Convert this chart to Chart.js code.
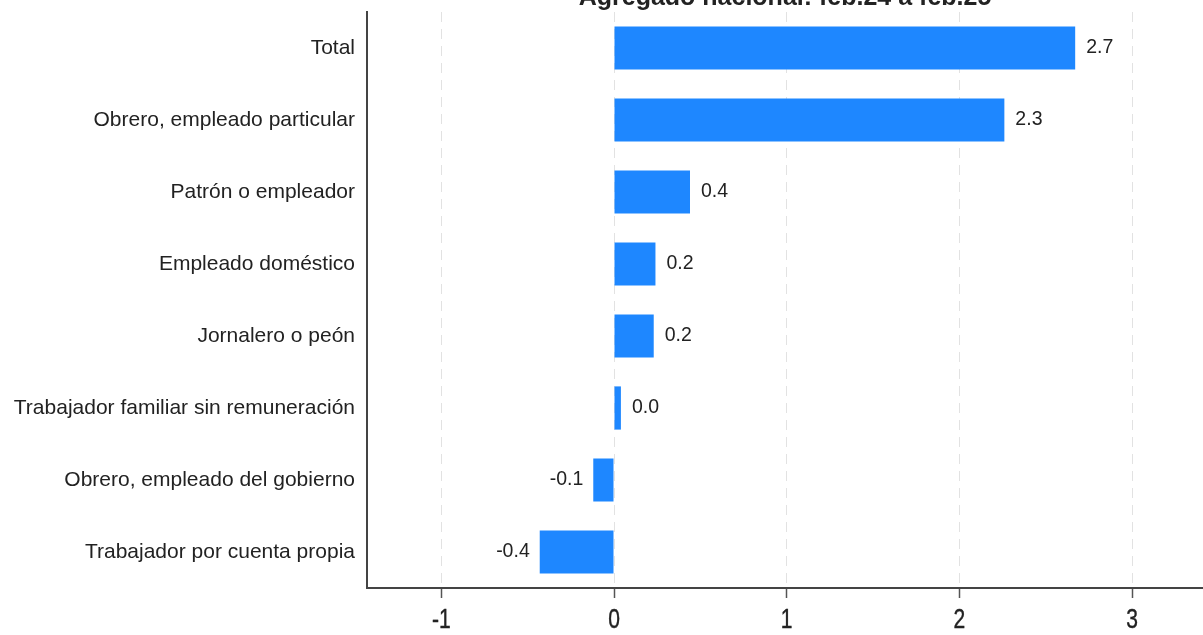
<!DOCTYPE html>
<html>
<head>
<meta charset="utf-8">
<script src="https://cdn.jsdelivr.net/npm/chart.js@4.4.1/dist/chart.umd.min.js"></script>
<style>
  html, body { margin: 0; padding: 0; background: #fff; }
  #wrap { position: relative; width: 1203px; height: 635px; overflow: hidden; background: #fff; }
  #c { position: absolute; left: 0; top: -20px; }
</style>
</head>
<body>
<div id="wrap"><canvas id="c" width="1203" height="655"></canvas></div>
<script>
const title = 'Agregado nacional: feb.24 a feb.25';
const categories = [
  'Total',
  'Obrero, empleado particular',
  'Patrón o empleador',
  'Empleado doméstico',
  'Jornalero o peón',
  'Trabajador familiar sin remuneración',
  'Obrero, empleado del gobierno',
  'Trabajador por cuenta propia'
];
const values = [2.67, 2.26, 0.44, 0.24, 0.23, 0.04, -0.12, -0.43];
const xTicks = [-1, 0, 1, 2, 3];

const BAR_COLOR = '#1e87ff';
const TEXT = '#222222';

const valueLabels = {
  id: 'valueLabels',
  afterDatasetsDraw(chart) {
    const ctx = chart.ctx;
    const meta = chart.getDatasetMeta(0);
    ctx.save();
    ctx.font = '19.5px "Liberation Sans", Arial, sans-serif';
    ctx.fillStyle = TEXT;
    ctx.textBaseline = 'middle';
    meta.data.forEach((bar, i) => {
      const v = values[i];
      const txt = v.toFixed(1);
      if (v >= 0) {
        ctx.textAlign = 'left';
        ctx.fillText(txt, bar.x + 11, bar.y);
      } else {
        ctx.textAlign = 'right';
        ctx.fillText(txt, bar.x - 10, bar.y);
      }
    });
    ctx.restore();
  }
};

// x tick labels: drawn in a condensed form like the reference
const xTickLabels = {
  id: 'xTickLabels',
  afterDraw(chart) {
    const ctx = chart.ctx;
    const sx = chart.scales.x;
    ctx.save();
    ctx.font = '27px "Liberation Sans", Arial, sans-serif';
    ctx.fillStyle = TEXT;
    ctx.strokeStyle = TEXT;
    ctx.lineWidth = 0.4;
    ctx.textAlign = 'center';
    ctx.textBaseline = 'middle';
    sx.ticks.forEach(t => {
      const x = sx.getPixelForValue(t.value);
      ctx.save();
      ctx.translate(x, sx.top + 33);
      ctx.scale(0.78, 1);
      ctx.fillText(String(t.value), 0, 0);
      ctx.strokeText(String(t.value), 0, 0);
      ctx.restore();
    });
    ctx.restore();
  }
};

const topTitle = {
  id: 'topTitle',
  afterDraw(chart) {
    const ctx = chart.ctx;
    const a = chart.chartArea;
    ctx.save();
    ctx.font = 'bold 25px "Liberation Sans", Arial, sans-serif';
    ctx.fillStyle = TEXT;
    ctx.textAlign = 'center';
    ctx.textBaseline = 'alphabetic';
    ctx.fillText(title, (a.left + a.right) / 2, 25);
    ctx.restore();
  }
};

new Chart(document.getElementById('c'), {
  type: 'bar',
  data: {
    labels: categories,
    datasets: [{
      data: values,
      backgroundColor: BAR_COLOR,
      borderWidth: 0,
      barPercentage: 0.6,
      categoryPercentage: 1.0
    }]
  },
  options: {
    indexAxis: 'y',
    responsive: false,
    animation: false,
    devicePixelRatio: 1,
    layout: { padding: { top: 32, right: 0, left: 0, bottom: 0 } },
    plugins: { legend: { display: false }, title: { display: false }, tooltip: { enabled: false } },
    scales: {
      x: {
        type: 'linear',
        min: -1.43,
        max: 3.41,
        afterBuildTicks(scale) { scale.ticks = xTicks.map(v => ({ value: v })); },
        afterFit(scale) { scale.height = 47; },
        grid: {
          color: '#e2e2e2',
          lineWidth: 1,
          drawTicks: true,
          tickLength: 10,
          tickColor: '#555555',
          tickWidth: 1.5,
          tickBorderDash: []
        },
        border: { display: true, color: '#444444', width: 2, dash: [10, 7] },
        ticks: {
          display: false
        }
      },
      y: {
        afterFit(scale) { scale.width = 367; },
        grid: { display: false, drawOnChartArea: false, drawTicks: false },
        border: { display: true, color: '#444444', width: 2 },
        ticks: {
          color: TEXT,
          padding: 12,
          font: { family: '"Liberation Sans", Arial, sans-serif', size: 21 }
        }
      }
    }
  },
  plugins: [valueLabels, xTickLabels, topTitle]
});
</script>
</body>
</html>
